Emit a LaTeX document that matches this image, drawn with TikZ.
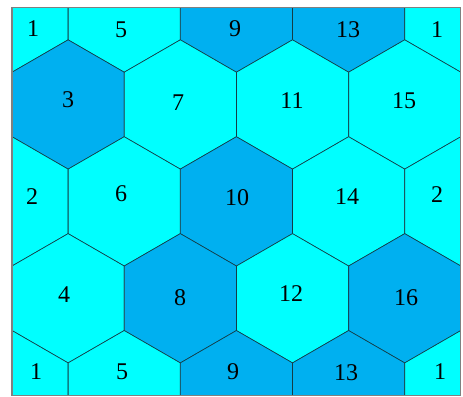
\documentclass[tikz,border=0pt]{standalone}
\usepackage{fontspec}
\setmainfont{Liberation Serif}
\definecolor{cellcyan}{RGB}{0,255,255}
\definecolor{cellblue}{RGB}{0,176,240}
\definecolor{celledge}{RGB}{20,60,70}
\begin{document}
\begin{tikzpicture}[x=0.75pt,y=-0.75pt,
  hexcell/.style={draw=celledge,line width=0.5pt},
  frame/.style={draw=gray,line width=0.9pt},
  num/.style={font=\fontsize{18}{20}\selectfont,inner sep=0pt}]
\useasboundingbox (0,0) rectangle (463,396);
\coordinate (nw) at (12,7.6);
\coordinate (se) at (460.7,395.2);
\begin{scope}
\clip (nw) rectangle (se);
\foreach \cx/\cy/\fc in {12/7.6/cellcyan,124.2/7.6/cellcyan,236.4/7.6/cellblue,
    348.6/7.6/cellblue,460.8/7.6/cellcyan,
    68.1/104.5/cellblue,180.3/104.5/cellcyan,292.5/104.5/cellcyan,404.7/104.5/cellcyan,
    12/201.4/cellcyan,124.2/201.4/cellcyan,236.4/201.4/cellblue,
    348.6/201.4/cellcyan,460.8/201.4/cellcyan,
    68.1/298.3/cellcyan,180.3/298.3/cellblue,292.5/298.3/cellcyan,404.7/298.3/cellblue,
    12/395.2/cellcyan,124.2/395.2/cellcyan,236.4/395.2/cellblue,
    348.6/395.2/cellblue,460.8/395.2/cellcyan}
  \filldraw[hexcell,fill=\fc] (\cx,\cy) +(30:64.7) -- +(90:64.7) -- +(150:64.7)
    -- +(210:64.7) -- +(270:64.7) -- +(330:64.7) -- cycle;
\end{scope}
\draw[frame] (nw) rectangle (se);
\node[num] (c1a) at (33,29) {1};
\node[num] (c5a) at (121,30) {5};
\node[num] (c9a) at (235,29) {9};
\node[num] (c13a) at (348,30) {13};
\node[num] (c1b) at (437,30) {1};
\node[num] (c3) at (68,100) {3};
\node[num] (c7) at (178,103) {7};
\node[num] (c11) at (292,101) {11};
\node[num] (c15) at (404,101) {15};
\node[num] (c2a) at (32,197) {2};
\node[num] (c6) at (121,194) {6};
\node[num] (c10) at (237,198) {10};
\node[num] (c14) at (347,197) {14};
\node[num] (c2b) at (437,195) {2};
\node[num] (c4) at (64,295) {4};
\node[num] (c8) at (180,298) {8};
\node[num] (c12) at (291,294) {12};
\node[num] (c16) at (406,298) {16};
\node[num] (c1c) at (36,372) {1};
\node[num] (c5b) at (122,372) {5};
\node[num] (c9b) at (233,372) {9};
\node[num] (c13b) at (346,373) {13};
\node[num] (c1d) at (440,372) {1};
\end{tikzpicture}
\end{document}
